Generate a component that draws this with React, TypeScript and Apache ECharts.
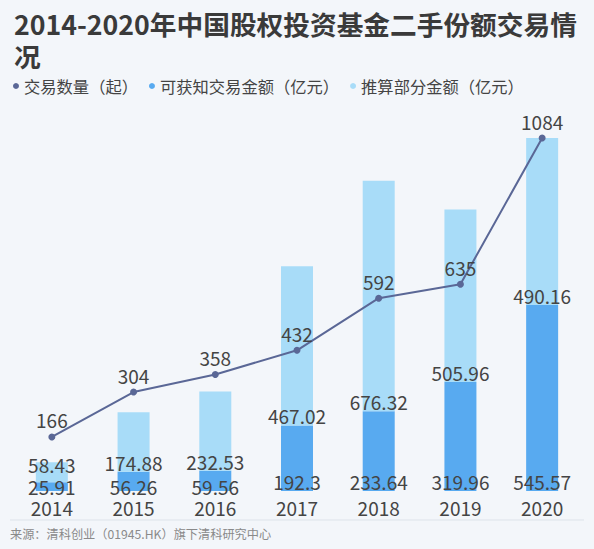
import React, { useEffect, useRef } from "react";
import * as echarts from "echarts";

const years = ["2014", "2015", "2016", "2017", "2018", "2019", "2020"];
// 交易数量（起）
const dealCount = [166, 304, 358, 432, 592, 635, 1084];
// 可获知交易金额（亿元）
const knownAmount = [25.91, 56.26, 59.56, 192.3, 233.64, 319.96, 545.57];
// 推算部分金额（亿元）
const estimatedAmount = [58.43, 174.88, 232.53, 467.02, 676.32, 505.96, 490.16];

const TITLE = "2014-2020年中国股权投资基金二手份额交易情\n况";
const SOURCE = "来源：清科创业（01945.HK）旗下清科研究中心";

const FONT = "'Noto Sans CJK SC', 'Noto Sans', sans-serif";
const TEXT = "#444444";
const LINE_COLOR = "#5a6796";
const DARK_BAR = "#58aaf0";
const LIGHT_BAR = "#a8dcf8";

export default function App() {
  const ref = useRef<HTMLDivElement>(null);

  useEffect(() => {
    if (!ref.current) return;
    const chart = echarts.init(ref.current, null, { renderer: "svg" });

    const totals = knownAmount.map((v, i) => v + estimatedAmount[i]);
    const barMax = Math.max(...totals);
    const lineMax = Math.max(...dealCount);

    const valueLabel = {
      show: true,
      color: TEXT,
      fontSize: 19,
      fontFamily: FONT,
    };

    chart.setOption({
      animation: false,
      backgroundColor: "#f3f6fa",
      textStyle: { fontFamily: FONT },
      title: {
        text: TITLE,
        left: 9,
        top: 2,
        textStyle: {
          fontFamily: FONT,
          fontSize: 26.7,
          fontWeight: "bold",
          color: "#3a3a3a",
          lineHeight: 32,
        },
      },
      legend: {
        left: 8,
        top: 72,
        icon: "circle",
        itemWidth: 6,
        itemHeight: 6,
        itemGap: 11,
        textStyle: { fontSize: 16.3, color: TEXT, fontFamily: FONT, lineHeight: 18 },
        data: ["交易数量（起）", "可获知交易金额（亿元）", "推算部分金额（亿元）"],
      },
      grid: { left: 11, right: 11, top: 138, bottom: 58, containLabel: false },
      xAxis: {
        type: "category",
        data: years,
        axisLine: { show: false },
        axisTick: { show: false },
        axisLabel: { color: TEXT, fontSize: 19, fontFamily: FONT, margin: 7 },
      },
      yAxis: [
        { type: "value", min: 0, max: barMax, show: false },
        { type: "value", min: 0, max: lineMax, show: false },
      ],
      series: [
        {
          name: "可获知交易金额（亿元）",
          type: "bar",
          stack: "amount",
          barWidth: 32,
          itemStyle: { color: DARK_BAR },
          label: { ...valueLabel, position: "insideBottom", distance: 0 },
          data: knownAmount.map((v) => ({
            value: v,
            label: v < 100 ? { offset: [0, 5] } : {},
          })),
        },
        {
          name: "推算部分金额（亿元）",
          type: "bar",
          stack: "amount",
          barWidth: 32,
          itemStyle: { color: LIGHT_BAR },
          label: { ...valueLabel, position: "insideBottom", distance: 0 },
          data: estimatedAmount.map((v, i) => ({
            value: v,
            label: knownAmount[i] < 50 ? { offset: [0, -8] } : {},
          })),
        },
        {
          name: "交易数量（起）",
          type: "line",
          yAxisIndex: 1,
          z: 5,
          symbol: "circle",
          symbolSize: 7,
          lineStyle: { color: LINE_COLOR, width: 2 },
          itemStyle: { color: LINE_COLOR },
          label: { ...valueLabel, position: "top", distance: 4 },
          data: dealCount,
        },
      ],
      graphic: [
        {
          type: "line",
          shape: { x1: 10, y1: 520, x2: 584, y2: 520 },
          style: { stroke: "#dde3ea", lineWidth: 1 },
        },
        {
          type: "text",
          left: 10,
          top: 528,
          style: {
            text: SOURCE,
            fontSize: 12.2,
            fontFamily: FONT,
            fill: "#8a8a8a",
          },
        },
      ],
    });

    return () => chart.dispose();
  }, []);

  return (
    <div
      ref={ref}
      style={{ position: "fixed", left: 0, top: 0, width: 594, height: 549 }}
    />
  );
}
